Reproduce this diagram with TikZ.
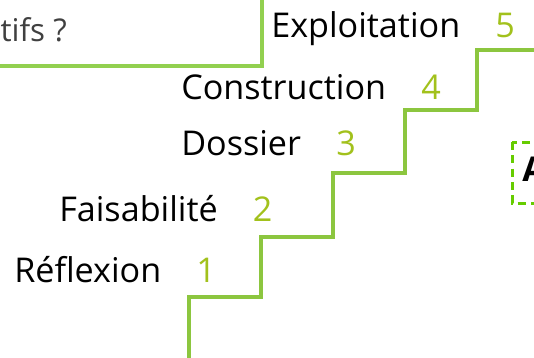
\documentclass[tikz,border=0pt]{standalone}
\usepackage{fontspec}
\setmainfont{Open Sans}
\usetikzlibrary{positioning}

\definecolor{stairgreen}{HTML}{8CC63F}
\definecolor{stepnum}{HTML}{A2C11C}
\definecolor{boxgreen}{HTML}{92D050}
\definecolor{dashgreen}{HTML}{66CC00}
\definecolor{textgrey}{HTML}{404040}

\begin{document}
\begin{tikzpicture}[x=0.75pt, y=-0.75pt, node distance=26pt, inner sep=0pt]
      \tikzstyle{phase}=[anchor=base west, font=\fontsize{25.6}{30}\selectfont, text=black]
      \tikzstyle{num}=[font=\fontsize{25.6}{30}\selectfont, text=stepnum]
      \tikzstyle{stair}=[draw=stairgreen, line width=2.5pt]
      \useasboundingbox (0,0) rectangle (534,357);
      % question box, top left
      \draw[boxgreen, line width=3pt, fill=white] (-30,-30) rectangle (262,66);
      \node[anchor=base east, font=\fontsize{23.5}{28}\selectfont, text=textgrey] (quest) at (67,41) {tifs ?};
      % the staircase
      \draw[stair] (189,362) |- (261,297) |- (333,237) |- (405,173) |- (477,110) |- (540,50);
      % phases and their numbers
      \node[phase] (expl) at (271,37) {Exploitation};
      \node[num, base right=of expl] (n5) {5};
      \node[phase] (constr) at (181,99) {Construction};
      \node[num, base right=of constr] (n4) {4};
      \node[phase] (doss) at (181,155) {Dossier};
      \node[num, base right=of doss] (n3) {3};
      \node[phase] (faisab) at (59,221) {Faisabilité};
      \node[num, base right=of faisab] (n2) {2};
      \node[phase] (reflex) at (14,282) {Réflexion};
      \node[num, base right=of reflex] (n1) {1};
      % dashed box on the right
      \draw[dashgreen, line width=2.25pt, dash pattern=on 6pt off 4pt] (512,142) rectangle (580,203);
      \node[anchor=base west, font=\fontsize{25.6}{30}\selectfont\bfseries] (abox) at (522,181) {A};
\end{tikzpicture}
\end{document}
